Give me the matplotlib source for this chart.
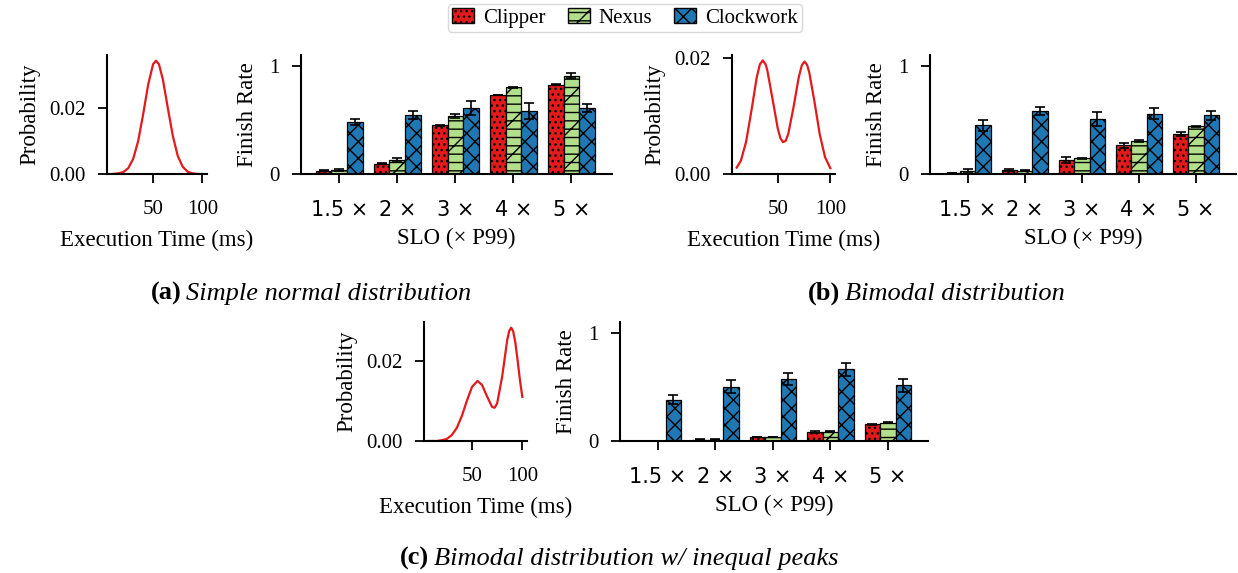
import numpy as np
import matplotlib
matplotlib.use("Agg")
import matplotlib.pyplot as plt
from matplotlib.patches import Patch

plt.rcParams['font.family'] = ['Liberation Serif', 'DejaVu Serif']
plt.rcParams['hatch.linewidth'] = 1.0
plt.rcParams['axes.linewidth'] = 1.5

W, H = 1238, 573

# ---- data ----
slo_labels = ["1.5 \u00d7", "2 \u00d7", "3 \u00d7", "4 \u00d7", "5 \u00d7"]
systems = ["Clipper", "Nexus", "Clockwork"]

# (a) simple normal distribution
dist_a_x = [8, 15, 20, 25, 30, 35, 40, 45, 50, 53, 56, 60, 65, 70, 75, 80, 85, 90, 95, 100]
dist_a_y = [0.0000, 0.0002, 0.0006, 0.0018, 0.0047, 0.0101, 0.0182, 0.0271, 0.0334, 0.0345,
            0.0334, 0.0287, 0.0200, 0.0116, 0.0055, 0.0022, 0.0007, 0.0002, 0.0000, 0.0000]
clipper_a = [0.030, 0.096, 0.450, 0.730, 0.824]
nexus_a = [0.037, 0.130, 0.537, 0.800, 0.907]
clock_a = [0.480, 0.546, 0.608, 0.580, 0.608]
clipper_a_err = [0.003, 0.004, 0.004, 0.004, 0.004]
nexus_a_err = [0.005, 0.015, 0.015, 0.004, 0.022]
clock_a_err = [0.025, 0.037, 0.065, 0.075, 0.037]

# (b) bimodal distribution
dist_b_x = [11, 15, 20, 25, 30, 33, 35.8, 38.5, 40, 45, 50, 52.5, 55, 57.5, 60, 65, 70, 73,
            75.5, 78, 80, 85, 90, 95, 100]
dist_b_y = [0.0011, 0.0023, 0.0056, 0.0109, 0.0166, 0.0189, 0.0196, 0.0189, 0.0180, 0.0130,
            0.0079, 0.0062, 0.0055, 0.0057, 0.0069, 0.0115, 0.0167, 0.0188, 0.0194, 0.0188,
            0.0175, 0.0124, 0.0068, 0.0029, 0.0010]
clipper_b = [0.010, 0.034, 0.130, 0.265, 0.367]
nexus_b = [0.030, 0.030, 0.145, 0.305, 0.440]
clock_b = [0.450, 0.580, 0.506, 0.556, 0.543]
clipper_b_err = [0.003, 0.010, 0.030, 0.026, 0.020]
nexus_b_err = [0.015, 0.004, 0.004, 0.006, 0.004]
clock_b_err = [0.050, 0.037, 0.063, 0.050, 0.043]

# (c) bimodal distribution w/ inequal peaks
dist_c_x = [7, 15, 20, 25, 30, 35, 40, 45, 50, 55.5, 60, 65, 70, 72.5, 75, 80, 85, 87, 89,
            91, 93, 95, 97.5, 100]
dist_c_y = [0.0000, 0.0000, 0.0002, 0.0005, 0.0015, 0.0033, 0.0063, 0.0101, 0.0135, 0.0150,
            0.0140, 0.0111, 0.0085, 0.0083, 0.0094, 0.0161, 0.0252, 0.0275, 0.0283, 0.0273,
            0.0247, 0.0208, 0.0155, 0.0110]
clipper_c = [0.002, 0.012, 0.037, 0.086, 0.153]
nexus_c = [0.002, 0.012, 0.037, 0.086, 0.169]
clock_c = [0.383, 0.500, 0.570, 0.663, 0.515]
clipper_c_err = [0.001, 0.002, 0.003, 0.008, 0.003]
nexus_c_err = [0.001, 0.002, 0.003, 0.003, 0.003]
clock_c_err = [0.040, 0.060, 0.055, 0.058, 0.058]

colors = ["#e31a1c", "#b2df8a", "#1f78b4"]
hatches = ["...", "--/", "xx"]
curve_color = "#e31a1c"

fig = plt.figure(figsize=(W / 100, H / 100), dpi=100)


def px_axes(x0, y0, x1, y1):
    return fig.add_axes([x0 / W, 1 - y1 / H, (x1 - x0) / W, (y1 - y0) / H])


def style(ax):
    ax.spines['top'].set_visible(False)
    ax.spines['right'].set_visible(False)
    ax.tick_params(axis='both', length=6.5, width=1.3, labelsize=15)
    ax.tick_params(axis='y', pad=9)
    ax.tick_params(axis='x', pad=12)


def draw_dist(ax, xs, ys):
    ax.plot(xs, ys, color=curve_color, lw=1.6)
    ax.set_ylim(bottom=0)
    ax.set_xticks([50, 100])
    ax.set_yticks([0.0, 0.02])
    ax.set_yticklabels(["0.00", "0.02"])
    style(ax)
    ax.set_ylabel("Probability", fontsize=16.5, labelpad=6)
    ax.set_xlabel("Execution Time (ms)", fontsize=16.5, labelpad=8)


def draw_bars(ax, vals, errs):
    x = np.arange(len(slo_labels))
    w = 0.27
    for i, (v, e) in enumerate(zip(vals, errs)):
        ax.bar(x + (i - 1) * w, v, w, yerr=e, color=colors[i], hatch=hatches[i],
               edgecolor="black", linewidth=0.9, capsize=3.5,
               error_kw=dict(elinewidth=1.2, capthick=1.2, ecolor="black"))
    ax.set_xlim(-0.66, 4.7)
    ax.set_ylim(0, 1.1)
    ax.set_yticks([0, 1])
    ax.set_xticks(x)
    ax.set_xticklabels(slo_labels, family="DejaVu Sans", fontsize=15)
    style(ax)
    ax.tick_params(axis='x', labelsize=15)
    ax.set_ylabel("Finish Rate", fontsize=16.5, labelpad=8)
    ax.set_xlabel("SLO (\u00d7 P99)", fontsize=16.5, labelpad=6)


draw_dist(px_axes(107, 55, 207, 174), dist_a_x, dist_a_y)
draw_bars(px_axes(301, 55, 612, 174), [clipper_a, nexus_a, clock_a],
          [clipper_a_err, nexus_a_err, clock_a_err])
draw_dist(px_axes(732, 55, 835, 174), dist_b_x, dist_b_y)
draw_bars(px_axes(930, 55, 1236, 174), [clipper_b, nexus_b, clock_b],
          [clipper_b_err, nexus_b_err, clock_b_err])
draw_dist(px_axes(424, 322, 527, 441), dist_c_x, dist_c_y)
draw_bars(px_axes(620, 322, 928, 441), [clipper_c, nexus_c, clock_c],
          [clipper_c_err, nexus_c_err, clock_c_err])

# legend
handles = [Patch(facecolor=colors[i], hatch=hatches[i], edgecolor="black", label=systems[i])
           for i in range(3)]
fig.legend(handles=handles, loc="upper center", bbox_to_anchor=(625 / W, 1 - 4 / H), ncol=3,
           fontsize=15, frameon=True, fancybox=True, edgecolor="#d0d0d0",
           handlelength=1.05, handleheight=0.72, columnspacing=1.05, handletextpad=0.43,
           borderaxespad=0.0, borderpad=0.2)

# captions: bold tag + italic title
renderer = fig.canvas.get_renderer()


def caption(xc, yb, tag, title):
    t1 = fig.text(0, 1 - yb / H, tag, fontsize=19, fontweight="bold", va="baseline")
    t2 = fig.text(0, 1 - yb / H, title, fontsize=19, style="italic", va="baseline")
    w1 = t1.get_window_extent(renderer).width
    w2 = t2.get_window_extent(renderer).width
    gap = 5
    left = xc - (w1 + gap + w2) / 2
    t1.set_x(left / W)
    t2.set_x((left + w1 + gap) / W)


caption(311, 300, "(a)", "Simple normal distribution")
caption(936, 300, "(b)", "Bimodal distribution")
caption(619, 565, "(c)", "Bimodal distribution w/ inequal peaks")

fig.savefig("out.png", dpi=100)
